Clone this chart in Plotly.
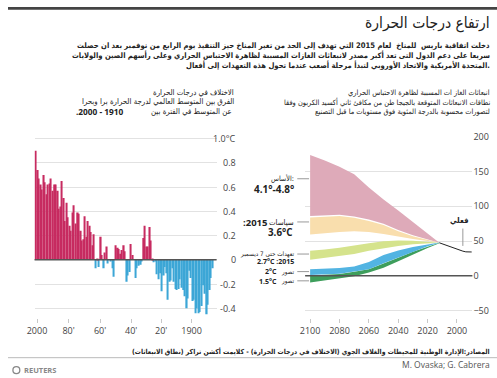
import plotly.graph_objects as go

W, H = 497, 378
AR = "DejaVu Sans Condensed, DejaVu Sans"
LAT = "Open Sans"

# ---------------- data: left chart (temperature anomaly, deg C) ----------------
YEARS = list(range(1900, 2016))
ANOM = [
    -0.07, -0.15, -0.25, -0.37, -0.45, -0.28, -0.21, -0.38, -0.43, -0.44,   # 1900s
    -0.40, -0.44, -0.33, -0.34, -0.15, -0.09, -0.32, -0.40, -0.30, -0.25,   # 1910s
    -0.23, -0.16, -0.24, -0.25, -0.24, -0.18, -0.07, -0.17, -0.18, -0.33,   # 1920s
    -0.11, -0.06, -0.13, -0.26, -0.11, -0.16, -0.12, -0.01, -0.02, 0.01,    # 1930s
    0.16, 0.27, 0.11, 0.11, 0.28, 0.18, -0.01, -0.04, -0.05, -0.07,         # 1940s
    -0.15, 0.00, 0.04, 0.13, -0.10, -0.13, -0.18, 0.07, 0.12, 0.08,         # 1950s
    0.05, 0.09, 0.10, 0.12, -0.14, -0.07, -0.01, 0.00, -0.03, 0.11,         # 1960s
    0.06, -0.07, 0.04, 0.19, -0.06, 0.01, -0.07, 0.21, 0.12, 0.23,          # 1970s
    0.28, 0.32, 0.19, 0.36, 0.17, 0.16, 0.24, 0.38, 0.39, 0.30,             # 1980s
    0.45, 0.39, 0.24, 0.28, 0.35, 0.47, 0.32, 0.51, 0.65, 0.44,             # 1990s
    0.42, 0.57, 0.62, 0.62, 0.57, 0.67, 0.63, 0.62, 0.54, 0.64,             # 2000s
    0.70, 0.58, 0.62, 0.67, 0.74, 0.90,                                     # 2010s
]
LEFT_TICK_TEXT = ["2000", "80'", "60'", "40'", "20'", "1900"]
LEFT_TICK_POS = [2014.0, 1993.5, 1973.0, 1952.7, 1933.2, 1913.4]   # where the picture places them
LEFT_Y_TICKS = [-0.4, -0.2, 0, 0.2, 0.4, 0.6, 0.8, 1.0]
LEFT_Y_TEXT = ["-0.4", "-0.2", "0", "0.2", "0.4", "0.6", "0.8", "1.0°C"]

# ---------------- data: right chart (emissions, GtCO2e) ----------------
BAND_YEARS = [2012, 2020, 2030, 2040, 2050, 2060, 2070, 2080, 2090, 2100]
BASE_HI = [47.5, 61, 78, 94, 110, 127, 146, 157, 166, 174]
BASE_LO = [47.5, 52, 58.5, 66, 75, 81, 85.5, 88, 87.5, 86]
POL_HI = [47.5, 51.5, 57, 64, 73, 79, 83.5, 86, 85.5, 84]
POL_LO = [47.5, 50, 53, 56, 60, 63, 64, 63.2, 61.5, 59.5]
PLEDGE_HI = [47.5, 49, 50.5, 51, 49.8, 47, 43.3, 40.5, 38, 36]
PLEDGE_LO = [47.5, 47, 45.5, 43, 39.7, 36, 31.5, 29, 26, 23]
TWO_HI = [48, 45, 41.5, 36.5, 30, 20, 13.5, 11.3, 10.2, 9.5]
TWO_LO = [47.5, 42.5, 35, 26.5, 18, 9.5, 6.3, 2.8, 1.8, 1]
ONE5_HI = [47.5, 42, 34.5, 26, 17.5, 9.5, 6, 2.5, 1.5, 0]
ONE5_LO = [47, 40, 31, 21, 11.5, 4.8, -0.5, -3.5, -6.5, -9.5]
ACT_YEARS = [1990, 1992, 1994, 1996, 1998, 2000, 2002, 2004, 2006, 2008, 2010, 2012]
ACT = [34.3, 34, 34.5, 35.5, 37, 39, 40.5, 41.5, 43, 44.5, 46, 47.5]
RIGHT_X_TICKS = [2100, 2080, 2060, 2040, 2020, 2000]
RIGHT_Y_TICKS = [-50, 0, 50, 100, 150, 200]

PINK_BAR = "#C72B60"
BLUE_BAR = "#3CA6D6"


def px(x):
    return x / W


def py(y):
    return 1 - y / H


fig = go.Figure()

# left bars
fig.add_trace(go.Bar(
    x=YEARS, y=ANOM, xaxis="x", yaxis="y",
    marker=dict(color=[PINK_BAR if v >= 0 else BLUE_BAR for v in ANOM], line=dict(width=0)),
    hoverinfo="skip",
))

# right bands
bands = [
    (BASE_HI, BASE_LO, "#DEAAB9"),
    (POL_HI, POL_LO, "#F9DEAD"),
    (PLEDGE_HI, PLEDGE_LO, "#D5E38C"),
    (ONE5_HI, ONE5_LO, "#3E9E5C"),
    (TWO_HI, TWO_LO, "#52B4E2"),
]
for hi, lo, col in bands:
    fig.add_trace(go.Scatter(
        x=BAND_YEARS + BAND_YEARS[::-1], y=hi + lo[::-1],
        fill="toself", fillcolor=col, mode="lines", line=dict(width=0),
        xaxis="x2", yaxis="y2", hoverinfo="skip",
    ))
fig.add_trace(go.Scatter(
    x=ACT_YEARS, y=ACT, mode="lines", line=dict(color="#222", width=1),
    xaxis="x2", yaxis="y2", hoverinfo="skip",
))

Y_DOM = [py(317), py(132)]
tickfont = dict(family=LAT, size=9, color="#444")

fig.update_layout(
    width=W, height=H, margin=dict(l=0, r=0, t=0, b=0),
    paper_bgcolor="white", plot_bgcolor="white",
    showlegend=False, bargap=0.12,
    xaxis=dict(domain=[px(27), px(212)], range=[2015.6, 1897.1], anchor="y",
               tickvals=LEFT_TICK_POS, ticktext=LEFT_TICK_TEXT,
               ticks="outside", ticklen=4, tickcolor="#c8c8c8", tickfont=tickfont,
               showgrid=False, zeroline=False, showline=False),
    yaxis=dict(domain=Y_DOM, range=[-0.481, 1.016], anchor="x",
               tickvals=LEFT_Y_TICKS, showticklabels=False,
               showgrid=True, gridcolor="#e2e2e2", gridwidth=1, zeroline=False),
    xaxis2=dict(domain=[px(302), px(472)], range=[2103.4, 1989.5], anchor="y2",
                tickvals=RIGHT_X_TICKS, ticks="outside", ticklen=4, tickcolor="#c8c8c8",
                tickfont=tickfont, showgrid=False, zeroline=False, showline=False),
    yaxis2=dict(domain=Y_DOM, range=[-60.9, 200.4], anchor="x2", side="right",
                tickvals=RIGHT_Y_TICKS, tickfont=tickfont, ticks="",
                showgrid=True, gridcolor="#e2e2e2", gridwidth=1, zeroline=False),
)

shapes = [
    dict(type="rect", xref="paper", yref="paper", x0=0, x1=1, y0=py(2.7), y1=1,
         fillcolor="#444", line=dict(width=0)),
    dict(type="line", xref="paper", yref="paper", x0=0, x1=1, y0=py(357.3), y1=py(357.3),
         line=dict(color="#bbbbbb", width=1)),
    dict(type="line", xref="x domain", yref="y", x0=0, x1=1, y0=0, y1=0,
         line=dict(color="#555", width=1.5), layer="above"),
    dict(type="line", xref="x2 domain", yref="y2", x0=0, x1=1, y0=0, y1=0,
         line=dict(color="#555", width=1.5), layer="above"),
    dict(type="line", xref="x2", yref="y2", x0=1996, x1=1996, y0=43, y1=68,
         line=dict(color="#999", width=1)),
    dict(type="circle", xref="paper", yref="paper", x0=px(5), x1=px(12), y0=py(373.5), y1=py(366.5),
         line=dict(color="#888", width=1.3)),
]
for ly in [175, 219, 251.7, 269.6, 279]:
    shapes.append(dict(type="line", xref="paper", yref="paper", x0=px(294), x1=px(306),
                       y0=py(ly), y1=py(ly), line=dict(color="#999", width=1)))

anns = []


def ann(text, x, y, size, anchor="right", color="#222", family=AR):
    anns.append(dict(text=text, x=px(x), y=py(y), xref="paper", yref="paper",
                     xanchor=anchor, yanchor="middle", showarrow=False, borderpad=0,
                     font=dict(size=size, color=color, family=family)))


# header
ann("ارتفاع درجات الحرارة", 491, 17, 15.5, color="#222")
ann("<b>دخلت اتفاقية باريس  للمناخ  لعام 2015 التي تهدف إلى الحد من تغير المناخ حيز التنفيذ يوم الرابع من نوفمبر بعد ان حصلت</b>", 491, 39, 7.6)
ann("<b>سريعا على دعم الدول التى تعد أكبر مصدر لانبعاثات الغازات المسببة لظاهرة الاحتباس الحراري وعلى رأسهم الصين والولايات</b>", 491, 49.3, 7.6)
ann("<b>المتحدة الأمريكية والاتحاد الأوروبي لتبدأ مرحلة أصعب عندما تحول هذه التعهدات إلى أفعال.</b>", 491, 59.5, 7.6)

# left subtitle
ann("الاختلاف في درجات الحرارة", 231, 86.7, 7.8)
ann("الفرق بين المتوسط العالمي لدرجة الحرارة برا وبحرا", 231, 96.7, 7.8)
ann("عن المتوسط في الفترة بين", 229, 106.3, 7.8)
ann("<b>.2000 - 1910</b>", 119, 106.3, 8.3, family=LAT)

# right subtitle
ann("انبعاثات الغاز ات المسببة لظاهرة الاحتباس الحراري", 491, 86.7, 7.4)
ann("نطاقات الانبعاثات المتوقعة بالجيجا طن من مكافئ ثاني أكسيد الكربون وفقا", 491, 96.7, 7.4)
ann("لتصورات محسوبة بالدرجة المئوية فوق مستويات ما قبل التصنيع", 491, 106.3, 7.4)

# left y tick labels (right aligned as in the picture)
for v, t in zip(LEFT_Y_TICKS, LEFT_Y_TEXT):
    anns.append(dict(text=t, x=1, xref="x domain", y=v, yref="y", xanchor="right",
                     yanchor="middle", xshift=20, showarrow=False, borderpad=0,
                     font=tickfont))

# right chart labels
ann("الأساس:", 292, 175, 7.2)
ann("<b>4.1°-4.8°</b>", 292, 185, 10, family=LAT)
ann("سياسات", 292, 219.3, 7.8)
ann("<b>:2015</b>", 264, 219.3, 9.5, family=LAT)
ann("<b>3.6°C</b>", 290, 230, 9.8, family=LAT)
ann("تعهدات حتى 7 ديسمبر", 292, 251.5, 6.3)
ann("<b>2.7°C :2015</b>", 292, 259.8, 7.0, family=LAT)
ann("تصور", 292, 269.6, 6.2)
ann("<b>2°C</b>", 274, 269.6, 7.0, family=LAT)
ann("تصور", 292, 279.2, 6.2)
ann("<b>1.5°C</b>", 274, 279.2, 7.0, family=LAT)
ann("<b>فعلي</b>", 458.5, 218, 7.8, anchor="center")

# footer
ann("<b>المصادر:الإدارة الوطنية للمحيطات والغلاف الجوي (الاختلاف في درجات الحرارة) - كلايمت أكشن تراكر (نطاق الانبعاثات)</b>", 491, 351.5, 6.8)
ann("M. Ovaska; G. Cabrera", 491, 364.3, 8.5, color="#555", family=LAT)
ann("<b>REUTERS</b>", 15, 370, 7.5, anchor="left", color="#888", family=LAT)

fig.update_layout(shapes=shapes, annotations=anns)
fig.write_html("out.html", config={"displayModeBar": False},
               post_script="document.body.style.margin='0px';")
